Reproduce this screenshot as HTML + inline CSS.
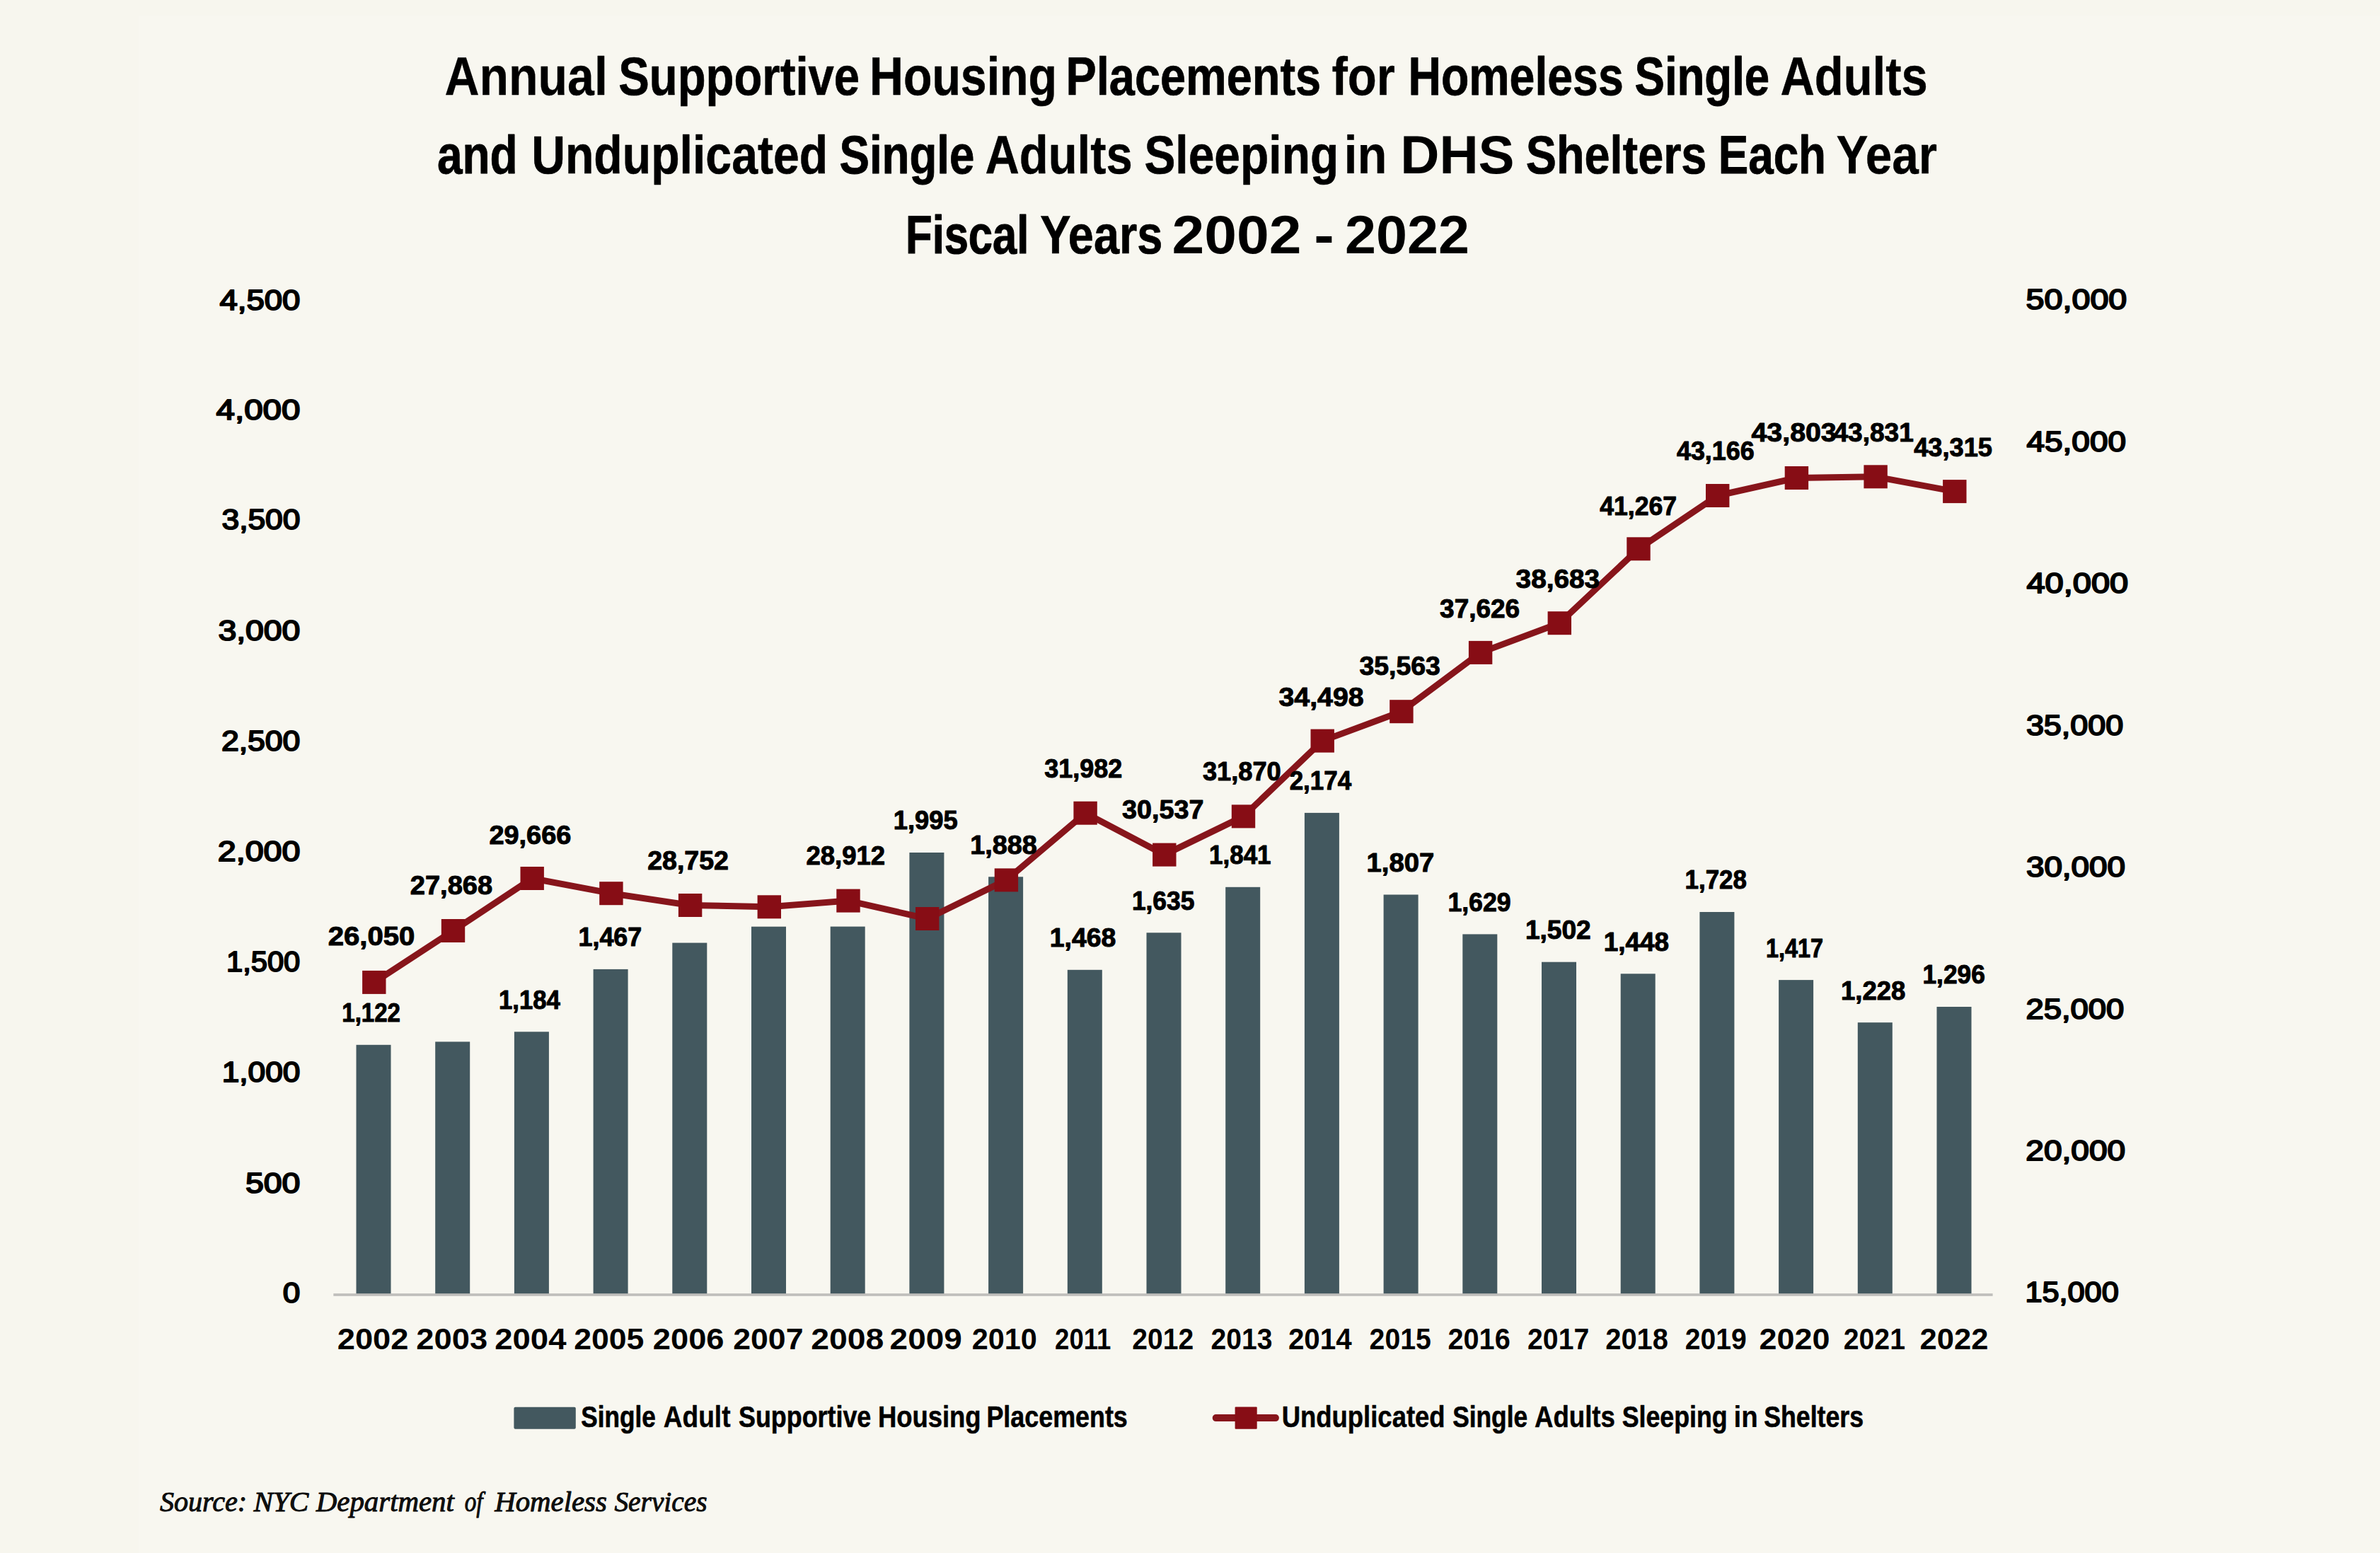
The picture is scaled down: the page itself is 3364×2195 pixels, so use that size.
<!DOCTYPE html>
<html lang="en"><head><meta charset="utf-8"><title>Annual Supportive Housing Placements for Homeless Single Adults</title>
<style>
html,body{margin:0;padding:0;background:#f7f6ee;}
body{width:3364px;height:2195px;overflow:hidden;}
svg{display:block;}
text{font-family:"Liberation Sans",sans-serif;fill:#000;}
.b{font-weight:700;}
.r{font-weight:400;}
.src{font-family:"Liberation Serif",serif;font-style:italic;font-weight:400;fill:#111;}
</style></head><body>
<svg width="3364" height="2195" viewBox="0 0 3364 2195">
<rect width="3364" height="2195" fill="#f7f6ee"/>
<rect x="196" y="22" width="3168" height="2173" fill="#f8f7f0"/>
<g id="title">
<text class="b" y="133.9" font-size="76" stroke-linejoin="round"><tspan x="628.4" textLength="230.4" lengthAdjust="spacingAndGlyphs" stroke="#000" stroke-width="0.28">Annual</tspan> <tspan x="874.3" textLength="340.8" lengthAdjust="spacingAndGlyphs" stroke="#000" stroke-width="0.66">Supportive</tspan> <tspan x="1229.1" textLength="264.9" lengthAdjust="spacingAndGlyphs" stroke="#000" stroke-width="0.53">Housing</tspan> <tspan x="1506.6" textLength="360.5" lengthAdjust="spacingAndGlyphs" stroke="#000" stroke-width="0.72">Placements</tspan> <tspan x="1882.5" textLength="89.4" lengthAdjust="spacingAndGlyphs" stroke="#000" stroke-width="0.41">for</tspan> <tspan x="1990.5" textLength="304.2" lengthAdjust="spacingAndGlyphs" stroke="#000" stroke-width="0.78">Homeless</tspan> <tspan x="2310.5" textLength="190.7" lengthAdjust="spacingAndGlyphs" stroke="#000" stroke-width="0.89">Single</tspan> <tspan x="2516.5" textLength="208.2" lengthAdjust="spacingAndGlyphs" stroke="#000" stroke-width="0.43">Adults</tspan></text>
<text class="b" y="244.8" font-size="76" stroke-linejoin="round"><tspan x="617.9" textLength="113.8" lengthAdjust="spacingAndGlyphs" stroke="#000" stroke-width="0.83">and</tspan> <tspan x="751.2" textLength="419.0" lengthAdjust="spacingAndGlyphs" stroke="#000" stroke-width="0.54">Unduplicated</tspan> <tspan x="1186.5" textLength="190.8" lengthAdjust="spacingAndGlyphs" stroke="#000" stroke-width="0.89">Single</tspan> <tspan x="1392.5" textLength="208.2" lengthAdjust="spacingAndGlyphs" stroke="#000" stroke-width="0.43">Adults</tspan> <tspan x="1617.4" textLength="274.8" lengthAdjust="spacingAndGlyphs" stroke="#000" stroke-width="0.57">Sleeping</tspan> <tspan x="1899.5" textLength="61.1" lengthAdjust="spacingAndGlyphs" stroke="#000" stroke-width="0.18">in</tspan> <tspan x="1979.2" textLength="161.4" lengthAdjust="spacingAndGlyphs">DHS</tspan> <tspan x="2156.8" textLength="255.6" lengthAdjust="spacingAndGlyphs" stroke="#000" stroke-width="0.73">Shelters</tspan> <tspan x="2428.7" textLength="152.3" lengthAdjust="spacingAndGlyphs" stroke="#000" stroke-width="0.87">Each</tspan> <tspan x="2595.5" textLength="142.5" lengthAdjust="spacingAndGlyphs" stroke="#000" stroke-width="0.37">Year</tspan></text>
<text class="b" y="357.7" font-size="76" stroke-linejoin="round"><tspan x="1280.1" textLength="174.2" lengthAdjust="spacingAndGlyphs" stroke="#000" stroke-width="1.18">Fiscal</tspan> <tspan x="1470.2" textLength="173.1" lengthAdjust="spacingAndGlyphs" stroke="#000" stroke-width="0.71">Years</tspan> <tspan x="1656.4" textLength="183.0" lengthAdjust="spacingAndGlyphs">2002</tspan> <tspan x="1857.3" textLength="28.5" lengthAdjust="spacingAndGlyphs">-</tspan> <tspan x="1901.1" textLength="176.0" lengthAdjust="spacingAndGlyphs">2022</tspan></text>
</g>
<g id="yleft">
<text class="r" x="310.5" y="437.7" font-size="40.5" textLength="113.9" lengthAdjust="spacingAndGlyphs" stroke="#000" stroke-width="2.0" stroke-linejoin="round">4,500</text>
<text class="r" x="305.6" y="592.5" font-size="40.5" textLength="118.8" lengthAdjust="spacingAndGlyphs" stroke="#000" stroke-width="2.0" stroke-linejoin="round">4,000</text>
<text class="r" x="313.5" y="748.3" font-size="40.5" textLength="110.9" lengthAdjust="spacingAndGlyphs" stroke="#000" stroke-width="2.0" stroke-linejoin="round">3,500</text>
<text class="r" x="308.4" y="905.1" font-size="40.5" textLength="116.0" lengthAdjust="spacingAndGlyphs" stroke="#000" stroke-width="2.0" stroke-linejoin="round">3,000</text>
<text class="r" x="312.9" y="1060.9" font-size="40.5" textLength="111.5" lengthAdjust="spacingAndGlyphs" stroke="#000" stroke-width="2.0" stroke-linejoin="round">2,500</text>
<text class="r" x="307.8" y="1216.7" font-size="40.5" textLength="116.6" lengthAdjust="spacingAndGlyphs" stroke="#000" stroke-width="2.0" stroke-linejoin="round">2,000</text>
<text class="r" x="320.1" y="1372.5" font-size="40.5" textLength="104.1" lengthAdjust="spacingAndGlyphs" stroke="#000" stroke-width="2.0" stroke-linejoin="round">1,500</text>
<text class="r" x="313.8" y="1529.2" font-size="40.5" textLength="110.5" lengthAdjust="spacingAndGlyphs" stroke="#000" stroke-width="2.0" stroke-linejoin="round">1,000</text>
<text class="r" x="347.0" y="1685.7" font-size="40.5" textLength="77.4" lengthAdjust="spacingAndGlyphs" stroke="#000" stroke-width="2.0" stroke-linejoin="round">500</text>
<text class="r" x="399.8" y="1840.6" font-size="40.5" textLength="24.5" lengthAdjust="spacingAndGlyphs" stroke="#000" stroke-width="2.0" stroke-linejoin="round">0</text>
</g>
<g id="yright">
<text class="r" x="2863.6" y="437.2" font-size="40.5" textLength="142.7" lengthAdjust="spacingAndGlyphs" stroke="#000" stroke-width="2.0" stroke-linejoin="round">50,000</text>
<text class="r" x="2864.5" y="637.6" font-size="40.5" textLength="140.5" lengthAdjust="spacingAndGlyphs" stroke="#000" stroke-width="2.0" stroke-linejoin="round">45,000</text>
<text class="r" x="2864.4" y="838.1" font-size="40.5" textLength="143.8" lengthAdjust="spacingAndGlyphs" stroke="#000" stroke-width="2.0" stroke-linejoin="round">40,000</text>
<text class="r" x="2863.9" y="1038.5" font-size="40.5" textLength="137.4" lengthAdjust="spacingAndGlyphs" stroke="#000" stroke-width="2.0" stroke-linejoin="round">35,000</text>
<text class="r" x="2863.9" y="1239.0" font-size="40.5" textLength="140.2" lengthAdjust="spacingAndGlyphs" stroke="#000" stroke-width="2.0" stroke-linejoin="round">30,000</text>
<text class="r" x="2863.4" y="1439.5" font-size="40.5" textLength="138.9" lengthAdjust="spacingAndGlyphs" stroke="#000" stroke-width="2.0" stroke-linejoin="round">25,000</text>
<text class="r" x="2863.3" y="1639.9" font-size="40.5" textLength="140.8" lengthAdjust="spacingAndGlyphs" stroke="#000" stroke-width="2.0" stroke-linejoin="round">20,000</text>
<text class="r" x="2862.4" y="1840.3" font-size="40.5" textLength="132.3" lengthAdjust="spacingAndGlyphs" stroke="#000" stroke-width="2.0" stroke-linejoin="round">15,000</text>
</g>
<g id="bars" fill="#43585f">
<rect x="503.5" y="1476.8" width="49" height="352.2"/>
<rect x="615.2" y="1472.4" width="49" height="356.6"/>
<rect x="726.9" y="1458.3" width="49" height="370.7"/>
<rect x="838.6" y="1369.9" width="49" height="459.1"/>
<rect x="950.3" y="1332.6" width="49" height="496.4"/>
<rect x="1062.0" y="1309.7" width="49" height="519.3"/>
<rect x="1173.7" y="1309.6" width="49" height="519.4"/>
<rect x="1285.4" y="1205.0" width="49" height="624.0"/>
<rect x="1397.1" y="1239.3" width="49" height="589.7"/>
<rect x="1508.8" y="1370.8" width="49" height="458.2"/>
<rect x="1620.5" y="1318.3" width="49" height="510.7"/>
<rect x="1732.2" y="1253.8" width="49" height="575.2"/>
<rect x="1843.9" y="1148.9" width="49" height="680.1"/>
<rect x="1955.6" y="1264.5" width="49" height="564.5"/>
<rect x="2067.3" y="1320.4" width="49" height="508.6"/>
<rect x="2179.0" y="1359.7" width="49" height="469.3"/>
<rect x="2290.7" y="1376.3" width="49" height="452.7"/>
<rect x="2402.4" y="1289.0" width="49" height="540.0"/>
<rect x="2514.1" y="1385.1" width="49" height="443.9"/>
<rect x="2625.8" y="1445.2" width="49" height="383.8"/>
<rect x="2737.5" y="1423.0" width="49" height="406.0"/>
</g>
<rect x="471.3" y="1828.2" width="2345.3" height="3.6" fill="#bfbebb"/>
<polyline fill="none" stroke="#87151b" stroke-width="9" stroke-linejoin="round" points="528.8,1388.4 640.5,1315.5 752.2,1241.5 863.9,1262.7 975.6,1279.5 1087.3,1281.8 1199.0,1273.1 1310.7,1298.5 1422.4,1243.9 1534.1,1149.2 1645.8,1208.1 1757.5,1153.9 1869.2,1047.1 1980.9,1005.7 2092.6,922.4 2204.3,880.7 2316.0,775.8 2427.7,700.5 2539.4,675.5 2651.1,673.8 2762.8,694.6"/>
<g id="markers" fill="#870d15">
<rect x="512.1" y="1371.9" width="33.4" height="33"/>
<rect x="623.8" y="1299.0" width="33.4" height="33"/>
<rect x="735.5" y="1225.0" width="33.4" height="33"/>
<rect x="847.2" y="1246.2" width="33.4" height="33"/>
<rect x="958.9" y="1263.0" width="33.4" height="33"/>
<rect x="1070.6" y="1265.3" width="33.4" height="33"/>
<rect x="1182.3" y="1256.6" width="33.4" height="33"/>
<rect x="1294.0" y="1282.0" width="33.4" height="33"/>
<rect x="1405.7" y="1227.4" width="33.4" height="33"/>
<rect x="1517.4" y="1132.7" width="33.4" height="33"/>
<rect x="1629.1" y="1191.6" width="33.4" height="33"/>
<rect x="1740.8" y="1137.4" width="33.4" height="33"/>
<rect x="1852.5" y="1030.6" width="33.4" height="33"/>
<rect x="1964.2" y="989.2" width="33.4" height="33"/>
<rect x="2075.9" y="905.9" width="33.4" height="33"/>
<rect x="2187.6" y="864.2" width="33.4" height="33"/>
<rect x="2299.3" y="759.3" width="33.4" height="33"/>
<rect x="2411.0" y="684.0" width="33.4" height="33"/>
<rect x="2522.7" y="659.0" width="33.4" height="33"/>
<rect x="2634.4" y="657.3" width="33.4" height="33"/>
<rect x="2746.1" y="678.1" width="33.4" height="33"/>
</g>
<g id="barlabels">
<text class="b" x="483.3" y="1444.2" font-size="36.5" textLength="82.7" lengthAdjust="spacingAndGlyphs" stroke="#000" stroke-width="1.0" stroke-linejoin="round">1,122</text>
<text class="b" x="705.0" y="1425.7" font-size="36.5" textLength="86.7" lengthAdjust="spacingAndGlyphs" stroke="#000" stroke-width="1.0" stroke-linejoin="round">1,184</text>
<text class="b" x="817.5" y="1337.3" font-size="36.5" textLength="89.7" lengthAdjust="spacingAndGlyphs" stroke="#000" stroke-width="1.0" stroke-linejoin="round">1,467</text>
<text class="b" x="1262.7" y="1172.4" font-size="36.5" textLength="90.9" lengthAdjust="spacingAndGlyphs" stroke="#000" stroke-width="1.0" stroke-linejoin="round">1,995</text>
<text class="b" x="1371.2" y="1206.7" font-size="36.5" textLength="94.5" lengthAdjust="spacingAndGlyphs" stroke="#000" stroke-width="1.0" stroke-linejoin="round">1,888</text>
<text class="b" x="1483.8" y="1338.2" font-size="36.5" textLength="93.6" lengthAdjust="spacingAndGlyphs" stroke="#000" stroke-width="1.0" stroke-linejoin="round">1,468</text>
<text class="b" x="1599.9" y="1285.7" font-size="36.5" textLength="88.4" lengthAdjust="spacingAndGlyphs" stroke="#000" stroke-width="1.0" stroke-linejoin="round">1,635</text>
<text class="b" x="1709.1" y="1221.2" font-size="36.5" textLength="87.4" lengthAdjust="spacingAndGlyphs" stroke="#000" stroke-width="1.0" stroke-linejoin="round">1,841</text>
<text class="b" x="1822.7" y="1116.3" font-size="36.5" textLength="87.4" lengthAdjust="spacingAndGlyphs" stroke="#000" stroke-width="1.0" stroke-linejoin="round">2,174</text>
<text class="b" x="1931.6" y="1231.9" font-size="36.5" textLength="95.7" lengthAdjust="spacingAndGlyphs" stroke="#000" stroke-width="1.0" stroke-linejoin="round">1,807</text>
<text class="b" x="2046.4" y="1287.8" font-size="36.5" textLength="89.2" lengthAdjust="spacingAndGlyphs" stroke="#000" stroke-width="1.0" stroke-linejoin="round">1,629</text>
<text class="b" x="2155.9" y="1327.1" font-size="36.5" textLength="92.8" lengthAdjust="spacingAndGlyphs" stroke="#000" stroke-width="1.0" stroke-linejoin="round">1,502</text>
<text class="b" x="2266.8" y="1343.7" font-size="36.5" textLength="92.3" lengthAdjust="spacingAndGlyphs" stroke="#000" stroke-width="1.0" stroke-linejoin="round">1,448</text>
<text class="b" x="2381.5" y="1256.4" font-size="36.5" textLength="87.4" lengthAdjust="spacingAndGlyphs" stroke="#000" stroke-width="1.0" stroke-linejoin="round">1,728</text>
<text class="b" x="2495.9" y="1352.5" font-size="36.5" textLength="81.2" lengthAdjust="spacingAndGlyphs" stroke="#000" stroke-width="1.0" stroke-linejoin="round">1,417</text>
<text class="b" x="2602.0" y="1412.6" font-size="36.5" textLength="91.3" lengthAdjust="spacingAndGlyphs" stroke="#000" stroke-width="1.0" stroke-linejoin="round">1,228</text>
<text class="b" x="2717.5" y="1390.4" font-size="36.5" textLength="88.3" lengthAdjust="spacingAndGlyphs" stroke="#000" stroke-width="1.0" stroke-linejoin="round">1,296</text>
</g>
<g id="linelabels">
<text class="b" x="463.7" y="1335.9" font-size="36.5" textLength="122.7" lengthAdjust="spacingAndGlyphs" stroke="#000" stroke-width="1.0" stroke-linejoin="round">26,050</text>
<text class="b" x="579.8" y="1264.3" font-size="36.5" textLength="116.3" lengthAdjust="spacingAndGlyphs" stroke="#000" stroke-width="1.0" stroke-linejoin="round">27,868</text>
<text class="b" x="691.4" y="1193.0" font-size="36.5" textLength="115.9" lengthAdjust="spacingAndGlyphs" stroke="#000" stroke-width="1.0" stroke-linejoin="round">29,666</text>
<text class="b" x="915.2" y="1229.0" font-size="36.5" textLength="114.8" lengthAdjust="spacingAndGlyphs" stroke="#000" stroke-width="1.0" stroke-linejoin="round">28,752</text>
<text class="b" x="1139.5" y="1221.8" font-size="36.5" textLength="111.5" lengthAdjust="spacingAndGlyphs" stroke="#000" stroke-width="1.0" stroke-linejoin="round">28,912</text>
<text class="b" x="1476.3" y="1098.8" font-size="36.5" textLength="109.9" lengthAdjust="spacingAndGlyphs" stroke="#000" stroke-width="1.0" stroke-linejoin="round">31,982</text>
<text class="b" x="1586.1" y="1156.9" font-size="36.5" textLength="115.4" lengthAdjust="spacingAndGlyphs" stroke="#000" stroke-width="1.0" stroke-linejoin="round">30,537</text>
<text class="b" x="1699.9" y="1103.1" font-size="36.5" textLength="110.8" lengthAdjust="spacingAndGlyphs" stroke="#000" stroke-width="1.0" stroke-linejoin="round">31,870</text>
<text class="b" x="1807.5" y="998.4" font-size="36.5" textLength="120.1" lengthAdjust="spacingAndGlyphs" stroke="#000" stroke-width="1.0" stroke-linejoin="round">34,498</text>
<text class="b" x="1921.5" y="953.9" font-size="36.5" textLength="114.4" lengthAdjust="spacingAndGlyphs" stroke="#000" stroke-width="1.0" stroke-linejoin="round">35,563</text>
<text class="b" x="2035.1" y="873.2" font-size="36.5" textLength="113.0" lengthAdjust="spacingAndGlyphs" stroke="#000" stroke-width="1.0" stroke-linejoin="round">37,626</text>
<text class="b" x="2142.6" y="831.2" font-size="36.5" textLength="118.5" lengthAdjust="spacingAndGlyphs" stroke="#000" stroke-width="1.0" stroke-linejoin="round">38,683</text>
<text class="b" x="2261.2" y="727.6" font-size="36.5" textLength="108.9" lengthAdjust="spacingAndGlyphs" stroke="#000" stroke-width="1.0" stroke-linejoin="round">41,267</text>
<text class="b" x="2370.0" y="649.6" font-size="36.5" textLength="109.6" lengthAdjust="spacingAndGlyphs" stroke="#000" stroke-width="1.0" stroke-linejoin="round">43,166</text>
<text class="b" x="2475.5" y="623.6" font-size="36.5" textLength="120.2" lengthAdjust="spacingAndGlyphs" stroke="#000" stroke-width="1.0" stroke-linejoin="round">43,803</text>
<text class="b" x="2591.4" y="623.6" font-size="36.5" textLength="113.4" lengthAdjust="spacingAndGlyphs" stroke="#000" stroke-width="1.0" stroke-linejoin="round">43,831</text>
<text class="b" x="2705.2" y="644.6" font-size="36.5" textLength="110.8" lengthAdjust="spacingAndGlyphs" stroke="#000" stroke-width="1.0" stroke-linejoin="round">43,315</text>
</g>
<g id="xlabels">
<text class="b" x="476.7" y="1906.8" font-size="43" textLength="100.8" lengthAdjust="spacingAndGlyphs">2002</text>
<text class="b" x="588.3" y="1906.8" font-size="43" textLength="100.8" lengthAdjust="spacingAndGlyphs">2003</text>
<text class="b" x="699.2" y="1906.8" font-size="43" textLength="101.3" lengthAdjust="spacingAndGlyphs">2004</text>
<text class="b" x="811.2" y="1906.8" font-size="43" textLength="99.2" lengthAdjust="spacingAndGlyphs">2005</text>
<text class="b" x="922.8" y="1906.8" font-size="43" textLength="100.7" lengthAdjust="spacingAndGlyphs">2006</text>
<text class="b" x="1036.2" y="1906.8" font-size="43" textLength="99.3" lengthAdjust="spacingAndGlyphs">2007</text>
<text class="b" x="1146.3" y="1906.8" font-size="43" textLength="103.1" lengthAdjust="spacingAndGlyphs">2008</text>
<text class="b" x="1257.6" y="1906.8" font-size="43" textLength="102.2" lengthAdjust="spacingAndGlyphs">2009</text>
<text class="b" x="1373.8" y="1906.8" font-size="43" textLength="92.1" lengthAdjust="spacingAndGlyphs">2010</text>
<text class="b" x="1491.1" y="1906.8" font-size="43" textLength="79.3" lengthAdjust="spacingAndGlyphs">2011</text>
<text class="b" x="1600.3" y="1906.8" font-size="43" textLength="86.9" lengthAdjust="spacingAndGlyphs">2012</text>
<text class="b" x="1711.6" y="1906.8" font-size="43" textLength="86.9" lengthAdjust="spacingAndGlyphs">2013</text>
<text class="b" x="1820.9" y="1906.8" font-size="43" textLength="89.8" lengthAdjust="spacingAndGlyphs">2014</text>
<text class="b" x="1935.6" y="1906.8" font-size="43" textLength="87.2" lengthAdjust="spacingAndGlyphs">2015</text>
<text class="b" x="2046.5" y="1906.8" font-size="43" textLength="88.2" lengthAdjust="spacingAndGlyphs">2016</text>
<text class="b" x="2159.1" y="1906.8" font-size="43" textLength="87.1" lengthAdjust="spacingAndGlyphs">2017</text>
<text class="b" x="2269.2" y="1906.8" font-size="43" textLength="88.8" lengthAdjust="spacingAndGlyphs">2018</text>
<text class="b" x="2381.8" y="1906.8" font-size="43" textLength="86.9" lengthAdjust="spacingAndGlyphs">2019</text>
<text class="b" x="2486.6" y="1906.8" font-size="43" textLength="100.0" lengthAdjust="spacingAndGlyphs">2020</text>
<text class="b" x="2605.7" y="1906.8" font-size="43" textLength="87.3" lengthAdjust="spacingAndGlyphs">2021</text>
<text class="b" x="2713.6" y="1906.8" font-size="43" textLength="96.9" lengthAdjust="spacingAndGlyphs">2022</text>
</g>
<g id="legend">
<rect x="726.4" y="1988.7" width="87.4" height="31.1" rx="2" fill="#43585f"/>
<text class="b" y="2017.1" font-size="43" stroke-linejoin="round"><tspan x="821.3" textLength="105.4" lengthAdjust="spacingAndGlyphs" stroke="#000" stroke-width="0.69">Single</tspan> <tspan x="937.8" textLength="94.7" lengthAdjust="spacingAndGlyphs" stroke="#000" stroke-width="0.42">Adult</tspan> <tspan x="1044.0" textLength="187.3" lengthAdjust="spacingAndGlyphs" stroke="#000" stroke-width="0.59">Supportive</tspan> <tspan x="1240.9" textLength="145.7" lengthAdjust="spacingAndGlyphs" stroke="#000" stroke-width="0.51">Housing</tspan> <tspan x="1394.4" textLength="199.4" lengthAdjust="spacingAndGlyphs" stroke="#000" stroke-width="0.59">Placements</tspan></text>
<line x1="1718.7" y1="2004.1" x2="1802.9" y2="2004.1" stroke="#87151b" stroke-width="10" stroke-linecap="round"/>
<rect x="1745.6" y="1988.4" width="31.1" height="31.4" rx="1" fill="#870d15"/>
<text class="b" y="2017.1" font-size="43" stroke-linejoin="round"><tspan x="1811.7" textLength="230.9" lengthAdjust="spacingAndGlyphs" stroke="#000" stroke-width="0.50">Unduplicated</tspan> <tspan x="2053.2" textLength="105.9" lengthAdjust="spacingAndGlyphs" stroke="#000" stroke-width="0.66">Single</tspan> <tspan x="2168.9" textLength="114.1" lengthAdjust="spacingAndGlyphs" stroke="#000" stroke-width="0.48">Adults</tspan> <tspan x="2292.7" textLength="149.0" lengthAdjust="spacingAndGlyphs" stroke="#000" stroke-width="0.60">Sleeping</tspan> <tspan x="2450.5" textLength="34.3" lengthAdjust="spacingAndGlyphs" stroke="#000" stroke-width="0.21">in</tspan> <tspan x="2493.2" textLength="140.9" lengthAdjust="spacingAndGlyphs" stroke="#000" stroke-width="0.61">Shelters</tspan></text>
</g>
<text class="src" y="2136.4" font-size="40" stroke-linejoin="round"><tspan x="226.0" textLength="123.1" lengthAdjust="spacingAndGlyphs" stroke="#000" stroke-width="0.90">Source:</tspan> <tspan x="358.5" textLength="77.8" lengthAdjust="spacingAndGlyphs" stroke="#000" stroke-width="0.90">NYC</tspan> <tspan x="446.8" textLength="195.1" lengthAdjust="spacingAndGlyphs" stroke="#000" stroke-width="0.90">Department</tspan> <tspan x="656.7" textLength="25.8" lengthAdjust="spacingAndGlyphs" stroke="#000" stroke-width="0.90">of</tspan> <tspan x="699.2" textLength="158.7" lengthAdjust="spacingAndGlyphs" stroke="#000" stroke-width="0.90">Homeless</tspan> <tspan x="868.4" textLength="131.2" lengthAdjust="spacingAndGlyphs" stroke="#000" stroke-width="0.90">Services</tspan></text>
</svg></body></html>
